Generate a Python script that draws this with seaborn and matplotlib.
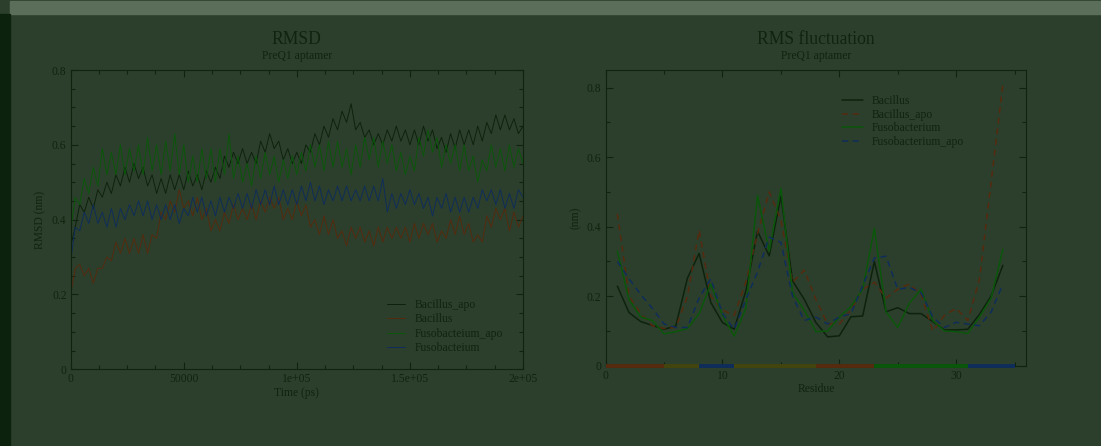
import numpy as np
import pandas as pd
import matplotlib
matplotlib.use("Agg")
import matplotlib.pyplot as plt
from matplotlib.patches import Rectangle
from matplotlib.ticker import MultipleLocator
import seaborn as sns

# RMSD traces, every 2000 ps
rmsd_step_ps = 2000
rmsd_bacillus_apo = [
    0.33, 0.38, 0.44, 0.42, 0.46, 0.43, 0.48, 0.46, 0.50, 0.47,
    0.52, 0.49, 0.54, 0.50, 0.55, 0.51, 0.54, 0.49, 0.52, 0.47,
    0.51, 0.47, 0.52, 0.48, 0.52, 0.48, 0.53, 0.49, 0.52, 0.48,
    0.53, 0.50, 0.54, 0.51, 0.57, 0.54, 0.58, 0.55, 0.59, 0.55,
    0.58, 0.55, 0.61, 0.58, 0.63, 0.59, 0.61, 0.56, 0.59, 0.55,
    0.58, 0.55, 0.60, 0.58, 0.63, 0.60, 0.65, 0.62, 0.67, 0.64,
    0.69, 0.66, 0.71, 0.64, 0.66, 0.62, 0.64, 0.60, 0.63, 0.60,
    0.64, 0.61, 0.65, 0.61, 0.64, 0.60, 0.64, 0.60, 0.65, 0.61,
    0.64, 0.59, 0.62, 0.58, 0.63, 0.59, 0.64, 0.60, 0.64, 0.60,
    0.65, 0.61, 0.66, 0.63, 0.68, 0.64, 0.68, 0.64, 0.67, 0.63,
    0.65]
rmsd_bacillus = [
    0.20, 0.27, 0.28, 0.25, 0.27, 0.23, 0.27, 0.27, 0.30, 0.29,
    0.34, 0.31, 0.35, 0.31, 0.35, 0.31, 0.36, 0.31, 0.36, 0.35,
    0.42, 0.40, 0.45, 0.42, 0.48, 0.43, 0.45, 0.41, 0.46, 0.40,
    0.43, 0.37, 0.40, 0.37, 0.42, 0.39, 0.44, 0.40, 0.43, 0.40,
    0.44, 0.40, 0.45, 0.42, 0.46, 0.43, 0.46, 0.40, 0.43, 0.40,
    0.45, 0.41, 0.44, 0.38, 0.40, 0.36, 0.41, 0.36, 0.40, 0.35,
    0.37, 0.33, 0.38, 0.35, 0.38, 0.34, 0.37, 0.33, 0.38, 0.34,
    0.38, 0.35, 0.38, 0.35, 0.38, 0.34, 0.39, 0.35, 0.39, 0.36,
    0.39, 0.34, 0.37, 0.35, 0.40, 0.36, 0.41, 0.36, 0.39, 0.34,
    0.36, 0.34, 0.41, 0.38, 0.43, 0.40, 0.43, 0.37, 0.42, 0.38,
    0.41]
rmsd_fuso_apo = [
    0.37, 0.46, 0.44, 0.51, 0.47, 0.54, 0.49, 0.59, 0.52, 0.58,
    0.52, 0.60, 0.52, 0.59, 0.53, 0.60, 0.52, 0.62, 0.53, 0.60,
    0.52, 0.61, 0.53, 0.63, 0.52, 0.60, 0.50, 0.57, 0.50, 0.59,
    0.51, 0.59, 0.50, 0.59, 0.52, 0.63, 0.51, 0.57, 0.50, 0.55,
    0.49, 0.57, 0.51, 0.58, 0.52, 0.57, 0.50, 0.56, 0.51, 0.57,
    0.52, 0.58, 0.53, 0.60, 0.54, 0.60, 0.53, 0.61, 0.54, 0.61,
    0.54, 0.59, 0.52, 0.60, 0.54, 0.62, 0.56, 0.62, 0.54, 0.61,
    0.55, 0.60, 0.53, 0.58, 0.52, 0.57, 0.53, 0.62, 0.57, 0.64,
    0.58, 0.62, 0.54, 0.60, 0.55, 0.60, 0.53, 0.60, 0.53, 0.57,
    0.50, 0.56, 0.53, 0.60, 0.54, 0.59, 0.53, 0.60, 0.54, 0.59,
    0.55]
rmsd_fuso = [
    0.29, 0.38, 0.37, 0.42, 0.39, 0.44, 0.39, 0.42, 0.38, 0.43,
    0.38, 0.43, 0.40, 0.44, 0.41, 0.45, 0.41, 0.45, 0.40, 0.44,
    0.40, 0.44, 0.40, 0.44, 0.39, 0.43, 0.41, 0.46, 0.42, 0.46,
    0.41, 0.45, 0.41, 0.46, 0.42, 0.46, 0.43, 0.47, 0.43, 0.47,
    0.43, 0.48, 0.44, 0.48, 0.44, 0.49, 0.44, 0.48, 0.44, 0.48,
    0.44, 0.49, 0.45, 0.50, 0.45, 0.49, 0.44, 0.48, 0.45, 0.49,
    0.45, 0.49, 0.45, 0.48, 0.45, 0.49, 0.45, 0.49, 0.45, 0.51,
    0.42, 0.47, 0.43, 0.47, 0.44, 0.48, 0.44, 0.47, 0.43, 0.46,
    0.41, 0.46, 0.43, 0.47, 0.42, 0.46, 0.42, 0.46, 0.42, 0.46,
    0.43, 0.48, 0.45, 0.48, 0.44, 0.48, 0.43, 0.47, 0.43, 0.48,
    0.46]
rmsd_labels = ["Bacillus_apo", "Bacillus", "Fusobacteium_apo", "Fusobacteium"]
rmsd_xticks = [0, 50000, 100000, 150000, 200000]
rmsd_xticklabels = ["0", "50000", "1e+05", "1.5e+05", "2e+05"]
value_ticks = [0, 0.2, 0.4, 0.6, 0.8]
value_ticklabels = ["0", "0.2", "0.4", "0.6", "0.8"]

# RMS fluctuation per residue
residues = list(range(1, 35))
rmsf_bacillus = [0.229, 0.153, 0.127, 0.116, 0.105, 0.114, 0.252, 0.323, 0.182, 0.124,
                 0.105, 0.215, 0.387, 0.316, 0.488, 0.244, 0.191, 0.124, 0.083, 0.086,
                 0.141, 0.143, 0.300, 0.155, 0.167, 0.150, 0.150, 0.127, 0.103, 0.103,
                 0.105, 0.148, 0.201, 0.289]
rmsf_bacillus_apo = [0.437, 0.200, 0.150, 0.115, 0.107, 0.110, 0.200, 0.390, 0.200, 0.160,
                     0.145, 0.240, 0.380, 0.500, 0.420, 0.240, 0.275, 0.190, 0.120, 0.120,
                     0.160, 0.220, 0.240, 0.195, 0.220, 0.235, 0.205, 0.100, 0.145, 0.165,
                     0.130, 0.250, 0.530, 0.810]
rmsf_fuso = [0.330, 0.190, 0.140, 0.130, 0.092, 0.098, 0.107, 0.150, 0.235, 0.145,
             0.085, 0.165, 0.490, 0.330, 0.510, 0.210, 0.160, 0.098, 0.100, 0.140,
             0.170, 0.220, 0.395, 0.155, 0.110, 0.180, 0.220, 0.130, 0.100, 0.098,
             0.093, 0.140, 0.195, 0.335]
rmsf_fuso_apo = [0.300, 0.250, 0.205, 0.165, 0.120, 0.110, 0.110, 0.195, 0.250, 0.150,
                 0.105, 0.190, 0.270, 0.370, 0.355, 0.200, 0.130, 0.140, 0.120, 0.140,
                 0.150, 0.230, 0.310, 0.315, 0.220, 0.225, 0.210, 0.140, 0.110, 0.125,
                 0.120, 0.115, 0.155, 0.235]
rmsf_labels = ["Bacillus", "Bacillus_apo", "Fusobacterium", "Fusobacterium_apo"]
rmsf_xticks = [0, 10, 20, 30]

# coloured region bar along the residue axis
region_start = [0, 5, 8, 11, 18, 23, 31]
region_end = [5, 8, 11, 18, 23, 31, 35]
region_kind = ["red", "olive", "blue", "olive", "red", "green", "blue"]

# everything sits under a dark green veil
BG = "#2c3f2c"
INK = "#0f230f"
shade = {"black": "#0d220d", "red": "#552a0e", "green": "#0a560a",
         "blue": "#0f2d5a", "olive": "#43450e"}

sns.set_theme(style="ticks")
plt.rcParams["font.family"] = ["Liberation Serif", "DejaVu Serif"]
plt.rcParams["text.color"] = INK
plt.rcParams["axes.labelcolor"] = INK
plt.rcParams["xtick.color"] = INK
plt.rcParams["ytick.color"] = INK

fig = plt.figure(figsize=(11.01, 4.46), dpi=100, facecolor=BG)
fig.patches.append(Rectangle((10 / 1101, 1 - 14 / 446), 1, 13 / 446,
                             transform=fig.transFigure, color="#5a6e5a", zorder=0))
fig.patches.append(Rectangle((0, 0), 10 / 1101, 1 - 14 / 446,
                             transform=fig.transFigure, color="#0d220d", zorder=0))

ax1 = fig.add_axes([0.0642, 0.172, 0.4108, 0.671])
ax2 = fig.add_axes([0.5501, 0.180, 0.382, 0.664])


def style_axes(ax):
    ax.set_facecolor(BG)
    for s in ax.spines.values():
        s.set_color(INK)
        s.set_linewidth(0.8)
    ax.tick_params(which="both", direction="in", top=True, right=True,
                   labelsize=8.4, pad=3, color=INK, width=0.8)
    ax.tick_params(which="major", length=5)
    ax.tick_params(which="minor", length=3)


# ---- RMSD panel
rmsd_sets = [rmsd_bacillus_apo, rmsd_bacillus, rmsd_fuso_apo, rmsd_fuso]
rows = []
for name, vals in zip(rmsd_labels, rmsd_sets):
    for i, v in enumerate(vals):
        rows.append({"time": i * rmsd_step_ps, "rmsd": v, "set": name})
df1 = pd.DataFrame(rows)
pal1 = dict(zip(rmsd_labels, [shade["black"], shade["red"], shade["green"], shade["blue"]]))
sns.lineplot(data=df1, x="time", y="rmsd", hue="set", hue_order=rmsd_labels,
             palette=pal1, estimator=None, sort=False, lw=0.7, ax=ax1)
style_axes(ax1)
ax1.set_xticks(rmsd_xticks, labels=rmsd_xticklabels)
ax1.set_yticks(value_ticks, labels=value_ticklabels)
ax1.xaxis.set_minor_locator(MultipleLocator(12500))
ax1.yaxis.set_minor_locator(MultipleLocator(0.05))
ax1.set_xlim(0, 200000)
ax1.set_ylim(0, 0.8)
ax1.set_xlabel("Time (ps)", fontsize=8.4, labelpad=1)
ax1.set_ylabel("RMSD (nm)", fontsize=8.4, labelpad=4)
h, l = ax1.get_legend_handles_labels()
ax1.legend(h, l, frameon=False, loc="upper left", bbox_to_anchor=(0.69, 0.25),
           fontsize=8.4, handlelength=1.5, handletextpad=0.8, labelspacing=0.2,
           labelcolor=INK, borderaxespad=0)
fig.text(0.2696, 1 - 40 / 446, "RMSD", ha="center", va="center", fontsize=12.7)
fig.text(0.2696, 1 - 56 / 446, "PreQ1 aptamer", ha="center", va="center", fontsize=8.4)

# ---- RMS fluctuation panel
rmsf_sets = [rmsf_bacillus, rmsf_bacillus_apo, rmsf_fuso, rmsf_fuso_apo]
rows = []
for name, vals in zip(rmsf_labels, rmsf_sets):
    for r, v in zip(residues, vals):
        rows.append({"residue": r, "rmsf": v, "set": name})
df2 = pd.DataFrame(rows)
pal2 = dict(zip(rmsf_labels, [shade["black"], shade["red"], shade["green"], shade["blue"]]))
dash2 = dict(zip(rmsf_labels, ["", (4, 3), "", (4, 3)]))
sns.lineplot(data=df2, x="residue", y="rmsf", hue="set", style="set",
             hue_order=rmsf_labels, style_order=rmsf_labels, palette=pal2,
             dashes=dash2, estimator=None, lw=1.1, ax=ax2)
ax2.hlines([0] * len(region_start), region_start, region_end,
           colors=[shade[k] for k in region_kind], lw=2.8, clip_on=False, zorder=5)
style_axes(ax2)
ax2.set_xticks(rmsf_xticks, labels=[str(t) for t in rmsf_xticks])
ax2.set_yticks(value_ticks, labels=value_ticklabels)
ax2.xaxis.set_minor_locator(MultipleLocator(5))
ax2.yaxis.set_minor_locator(MultipleLocator(0.1))
ax2.set_xlim(0, 36)
ax2.set_ylim(0, 0.852)
ax2.set_xlabel("Residue", fontsize=8.4, labelpad=1)
ax2.set_ylabel("(nm)", fontsize=8.4, labelpad=4)
h, l = ax2.get_legend_handles_labels()
ax2.legend(h, l, frameon=False, loc="upper left", bbox_to_anchor=(0.55, 0.93),
           fontsize=8.4, handlelength=1.8, handletextpad=0.8, labelspacing=0.15,
           labelcolor=INK, borderaxespad=0)
fig.text(816 / 1101, 1 - 39 / 446, "RMS fluctuation", ha="center", va="center", fontsize=12.7)
fig.text(816 / 1101, 1 - 56 / 446, "PreQ1 aptamer", ha="center", va="center", fontsize=8.4)

fig.savefig("out.png", dpi=100, facecolor=BG)
